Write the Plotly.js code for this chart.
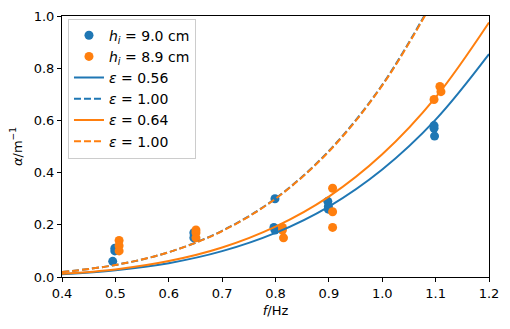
<!DOCTYPE html>
<html>
<head>
<meta charset="utf-8">
<script src="https://cdn.plot.ly/plotly-3.0.1.min.js"></script>
<style>
  html, body { margin: 0; padding: 0; background: #fff; }
  #chart { width: 510px; height: 329px; }
</style>
</head>
<body>
<div id="chart"></div>
<script>
// measured points
const fBlue = [0.495, 0.499, 0.499, 0.647, 0.647, 0.648, 0.799, 0.797, 0.799, 0.898, 0.899, 0.899, 1.097, 1.097, 1.098];
const aBlue = [0.06, 0.11, 0.10, 0.17, 0.15, 0.16, 0.30, 0.19, 0.18, 0.29, 0.27, 0.26, 0.58, 0.57, 0.54];
const fOrange = [0.507, 0.507, 0.507, 0.651, 0.651, 0.651, 0.813, 0.815, 0.813, 0.907, 0.907, 0.907, 1.097, 1.108, 1.11];
const aOrange = [0.14, 0.12, 0.10, 0.18, 0.17, 0.15, 0.19, 0.15, 0.18, 0.34, 0.25, 0.19, 0.68, 0.73, 0.71];

// model curves
const fLine = [0.4, 0.5, 0.6, 0.7, 0.8, 0.9, 1.0, 1.1, 1.2];
const aBlueFit = [0.011, 0.026, 0.053, 0.099, 0.169, 0.270, 0.412, 0.603, 0.854];
const aOrangeFit = [0.012, 0.029, 0.061, 0.113, 0.193, 0.308, 0.470, 0.688, 0.975];
const fDash = [0.4, 0.5, 0.6, 0.7, 0.8, 0.9, 1.0, 1.1];
const aBlueDash = [0.019, 0.046, 0.095, 0.177, 0.301, 0.483, 0.736, 1.078];
const aOrangeDash = [0.019, 0.046, 0.095, 0.176, 0.300, 0.481, 0.734, 1.074];

const blue = '#1f77b4';
const orange = '#ff7f0e';
const font = 'DejaVu Sans, sans-serif';
const sp = '\u00a0';

const traces = [
  { x: fBlue, y: aBlue, type: 'scatter', mode: 'markers', name: '<i>h<sub>i</sub></i>' + sp + '= 9.0' + sp + 'cm',
    marker: { color: blue, size: 9 } },
  { x: fOrange, y: aOrange, type: 'scatter', mode: 'markers', name: '<i>h<sub>i</sub></i>' + sp + '= 8.9' + sp + 'cm',
    marker: { color: orange, size: 9 } },
  { x: fLine, y: aBlueFit, type: 'scatter', mode: 'lines', name: '<i>ε</i> = 0.56',
    line: { color: blue, width: 2, shape: 'spline' } },
  { x: fDash, y: aBlueDash, type: 'scatter', mode: 'lines', name: '<i>ε</i> = 1.00',
    line: { color: blue, width: 2, dash: '7px,3px', shape: 'spline' } },
  { x: fLine, y: aOrangeFit, type: 'scatter', mode: 'lines', name: '<i>ε</i> = 0.64',
    line: { color: orange, width: 2, shape: 'spline' } },
  { x: fDash, y: aOrangeDash, type: 'scatter', mode: 'lines', name: '<i>ε</i> = 1.00',
    line: { color: orange, width: 2, dash: '7px,3px', shape: 'spline' } }
];

const axis = {
  showgrid: false, zeroline: false,
  showline: true, linecolor: '#000', linewidth: 1, mirror: true,
  ticks: 'outside', ticklen: 4, tickwidth: 1, tickcolor: '#000',
  tickfont: { family: font, size: 13, color: '#000' },
  tickformat: '.1f'
};

const layout = {
  width: 510, height: 329,
  margin: { l: 62, r: 21, t: 16, b: 52 },
  paper_bgcolor: '#fff', plot_bgcolor: '#fff',
  font: { family: font, size: 13, color: '#000' },
  showlegend: true,
  legend: {
    x: 0.014, y: 0.99, xanchor: 'left', yanchor: 'top',
    bgcolor: 'rgba(255,255,255,0.8)', bordercolor: '#cccccc', borderwidth: 1,
    font: { family: font, size: 14, color: '#000' },
    tracegroupgap: 0
  },
  xaxis: Object.assign({}, axis, {
    range: [0.4, 1.2], dtick: 0.1, tick0: 0.4,
    title: { text: '<i>f</i>/Hz', font: { family: font, size: 13 }, standoff: 6 }
  }),
  yaxis: Object.assign({}, axis, {
    range: [0, 1.0], dtick: 0.2, tick0: 0,
    title: { text: '<i>α</i>/m<sup>−1</sup>', font: { family: font, size: 13 }, standoff: 8 }
  })
};

Plotly.newPlot('chart', traces, layout, { displayModeBar: false, staticPlot: true });
</script>
</body>
</html>
